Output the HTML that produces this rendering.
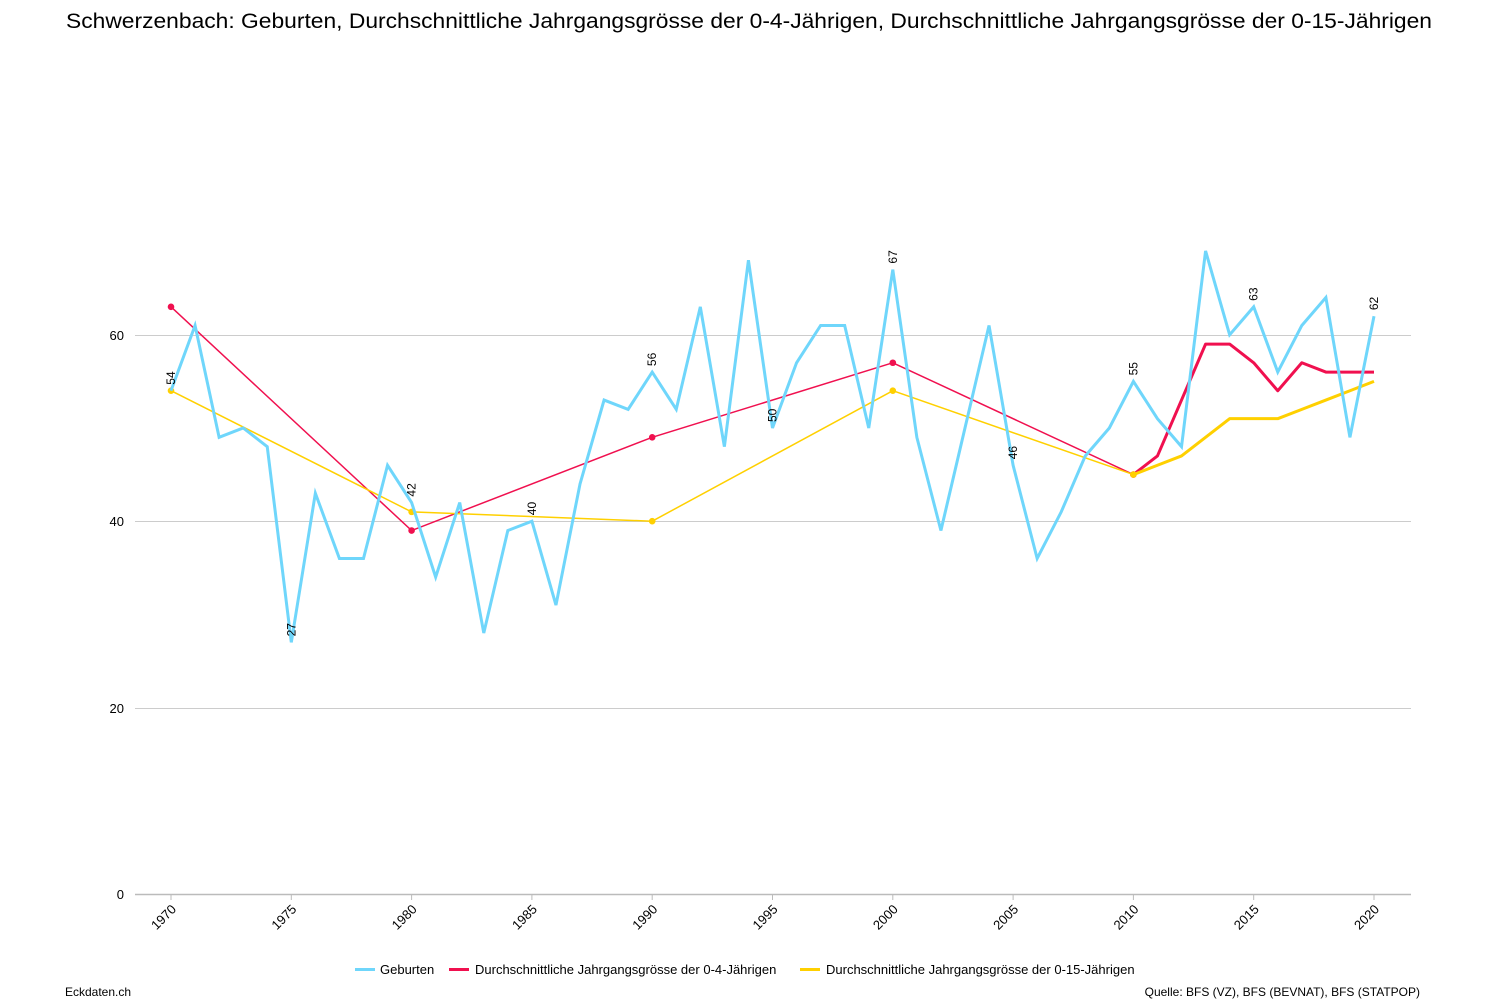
<!DOCTYPE html>
<html><head><meta charset="utf-8"><style>
html,body{margin:0;padding:0;background:#fff;width:1500px;height:1000px;overflow:hidden}
svg{display:block;font-family:"Liberation Sans",sans-serif}
</style></head><body>
<svg id="s" width="1500" height="1000" xmlns="http://www.w3.org/2000/svg">
<text x="66" y="28" font-size="21" textLength="1366" lengthAdjust="spacingAndGlyphs" fill="#000">Schwerzenbach: Geburten, Durchschnittliche Jahrgangsgrösse der 0-4-Jährigen, Durchschnittliche Jahrgangsgrösse der 0-15-Jährigen</text>
<g stroke="#ccc" stroke-width="1">
<line x1="135" x2="1411" y1="335.5" y2="335.5"/>
<line x1="135" x2="1411" y1="521.5" y2="521.5"/>
<line x1="135" x2="1411" y1="708.5" y2="708.5"/>
</g>
<line x1="135" x2="1411" y1="894.5" y2="894.5" stroke="#bbb" stroke-width="1.5"/>
<g font-size="13" fill="#000" text-anchor="end">
<text x="124" y="340">60</text><text x="124" y="526">40</text><text x="124" y="713">20</text><text x="124" y="899">0</text>
</g>
<g id="ax"></g>
<g id="plot"></g>
<g font-size="13" fill="#000">
<line x1="355" x2="375" y1="969.5" y2="969.5" stroke="#6fd6fb" stroke-width="3"/>
<text x="380" y="974">Geburten</text>
<line x1="449" x2="469" y1="969.5" y2="969.5" stroke="#f0104f" stroke-width="3"/>
<text x="475" y="974">Durchschnittliche Jahrgangsgrösse der 0-4-Jährigen</text>
<line x1="800" x2="820" y1="969.5" y2="969.5" stroke="#ffd000" stroke-width="3"/>
<text x="826" y="974">Durchschnittliche Jahrgangsgrösse der 0-15-Jährigen</text>
<text x="65" y="996" font-size="12">Eckdaten.ch</text>
<text x="1420" y="996" font-size="12" text-anchor="end">Quelle: BFS (VZ), BFS (BEVNAT), BFS (STATPOP)</text>
</g>
</svg>
<script>
var NS="http://www.w3.org/2000/svg";
function X(yr){return 171+(yr-1970)*24.06}
function Y(v){return 894-v*9.32}
function el(p,t,a,txt){var e=document.createElementNS(NS,t);for(var k in a)e.setAttribute(k,a[k]);if(txt!=null)e.textContent=txt;p.appendChild(e);return e}
var ax=document.getElementById('ax'),pl=document.getElementById('plot');
for(var y=1970;y<=2020;y+=5){var x=X(y);el(ax,'line',{x1:x,x2:x,y1:894,y2:900,stroke:'#bbb'});
el(ax,'text',{x:x+6,y:910,'font-size':13,'text-anchor':'end',transform:'rotate(-45 '+(x+6)+' 910)'},y)}
var g=[54,61,49,50,48,27,43,36,36,46,42,34,42,28,39,40,31,44,53,52,56,52,63,48,68,50,57,61,61,50,67,49,39,50,61,46,36,41,47,50,55,51,48,69,60,63,56,61,64,49,62];
function series(dec,late,col){var p1=dec.map(function(d){return[X(d[0]),Y(d[1])]});
el(pl,'path',{d:'M'+p1.map(function(p){return p.join(',')}).join(' L'),fill:'none',stroke:col,'stroke-width':1.5});
var p2=late.map(function(d,i){return[X(2010+i),Y(d)]});
el(pl,'path',{d:'M'+p2.map(function(p){return p.join(',')}).join(' L'),fill:'none',stroke:col,'stroke-width':3,'stroke-linejoin':'round'});
p1.forEach(function(p){el(pl,'circle',{cx:p[0],cy:p[1],r:3.3,fill:col})});}
series([[1970,63],[1980,39],[1990,49],[2000,57],[2010,45]],[45,47,53,59,59,57,54,57,56,56,56],'#f0104f');
series([[1970,54],[1980,41],[1990,40],[2000,54],[2010,45]],[45,46,47,49,51,51,51,52,53,54,55],'#ffd000');
el(pl,'path',{d:'M'+g.map(function(v,i){return X(1970+i)+','+Y(v)}).join(' L'),fill:'none',stroke:'#6fd6fb','stroke-width':3,'stroke-linejoin':'miter'});
for(var i=0;i<=50;i+=5){var x=X(1970+i)+4,yy=Y(g[i])-6;el(pl,'text',{x:x,y:yy,'font-size':12,transform:'rotate(-90 '+x+' '+yy+')'},g[i])}
</script>
</body></html>
